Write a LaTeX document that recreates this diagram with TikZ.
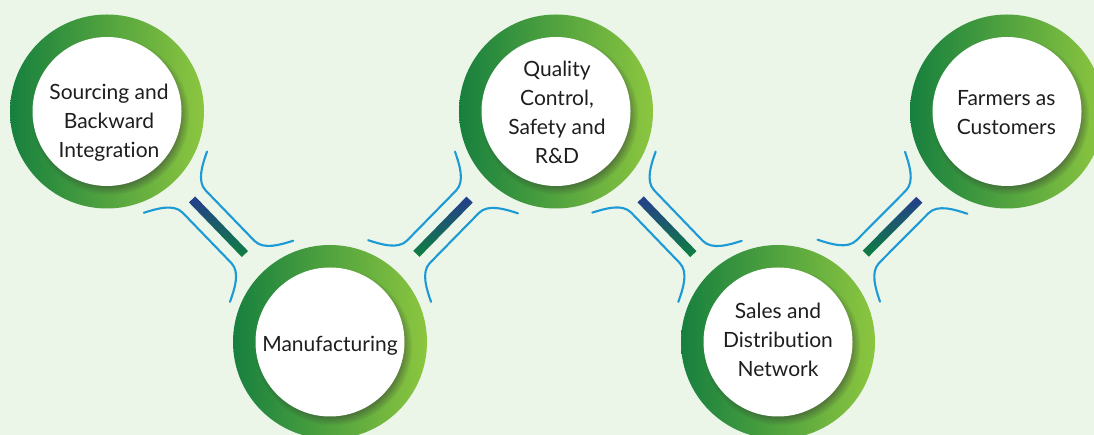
\documentclass[tikz,border=0pt]{standalone}
\usepackage{fontspec}
\setmainfont{Lato}[Ligatures={NoCommon}]
\usetikzlibrary{calc,shadows,fadings}
\definecolor{bgcol}{HTML}{EBF5E8}
\definecolor{ringdark}{HTML}{17803E}
\definecolor{ringlight}{HTML}{8CC63F}
\definecolor{linkblue}{HTML}{1B9AD6}
\definecolor{bartop}{HTML}{253D8D}
\definecolor{barbot}{HTML}{0E8040}
\definecolor{txtcol}{HTML}{1E1E1E}
\tikzset{
  ring/.style={circle, minimum size=194pt, inner sep=0pt, left color=ringdark, right color=ringlight, draw=none},
  disc/.style={circle, minimum size=149pt, inner sep=0pt, fill=white,
    circular drop shadow={shadow scale=1.06, shadow xshift=3pt, shadow yshift=-4pt, opacity=.55, fill=black!80}},
  steptext/.style={align=center, font=\fontsize{21}{29}\selectfont, text=txtcol, inner sep=0pt},
  linkline/.style={draw=linkblue, line width=2.1pt, line cap=round},
  linkbar/.style={top color=bartop, bottom color=barbot, draw=none},
}
\newcommand\linkpair[2]{%
  \pgfmathanglebetweenpoints{\pgfpointanchor{#1}{center}}{\pgfpointanchor{#2}{center}}%
  \let\linkang\pgfmathresult
  \coordinate (m#1#2) at ($(#1)!0.5!(#2)$);
  \coordinate (ea#1#2) at ($(m#1#2)!38pt!(#1)$);
  \coordinate (eb#1#2) at ($(m#1#2)!38pt!(#2)$);
  \shade[linkbar] ($(ea#1#2)!4.3pt!90:(m#1#2)$) -- ($(ea#1#2)!4.3pt!-90:(m#1#2)$)
     -- ($(eb#1#2)!4.3pt!90:(m#1#2)$) -- ($(eb#1#2)!4.3pt!-90:(m#1#2)$) -- cycle;
  \begin{scope}[shift={(m#1#2)}, rotate=\linkang]
    \draw[linkline] (-62,44) .. controls (-56,32) and (-48,16) .. (-35,16) -- (35,16)
      .. controls (48,16) and (56,32) .. (62,44);
    \draw[linkline] (-62,-44) .. controls (-56,-32) and (-48,-16) .. (-35,-16) -- (35,-16)
      .. controls (48,-16) and (56,-32) .. (62,-44);
  \end{scope}}
\begin{document}
\begin{tikzpicture}[x=1pt,y=1pt]
  \useasboundingbox (0,0) rectangle (1094,435);
  \clip (0,0) rectangle (1094,435);
  \fill[bgcol] (0,0) rectangle (1094,435);
  % rings
  \node[ring] (r1) at (107,323.5) {};
  \node[ring] (r2) at (330,93) {};
  \node[ring] (r3) at (556,323.5) {};
  \node[ring] (r4) at (778,93) {};
  \node[ring] (r5) at (1007,323.5) {};
  % white discs
  \foreach \i in {1,...,5} { \node[disc] (d\i) at (r\i) {}; }
  % texts
  \node[steptext] (t1) at (109,312.8) {Sourcing and\\Backward\\Integration};
  \node[steptext] (t2) at (330,89.4) {Manufacturing};
  \node[steptext] (t3) at (557,322.7) {Quality\\Control,\\Safety and\\R\&D};
  \node[steptext] (t4) at (778,95.4) {Sales and\\Distribution\\Network};
  \node[steptext] (t5) at (1006.3,322.9) {Farmers as\\Customers};
  % links
  \linkpair{r1}{r2}
  \linkpair{r2}{r3}
  \linkpair{r3}{r4}
  \linkpair{r4}{r5}
\end{tikzpicture}
\end{document}
